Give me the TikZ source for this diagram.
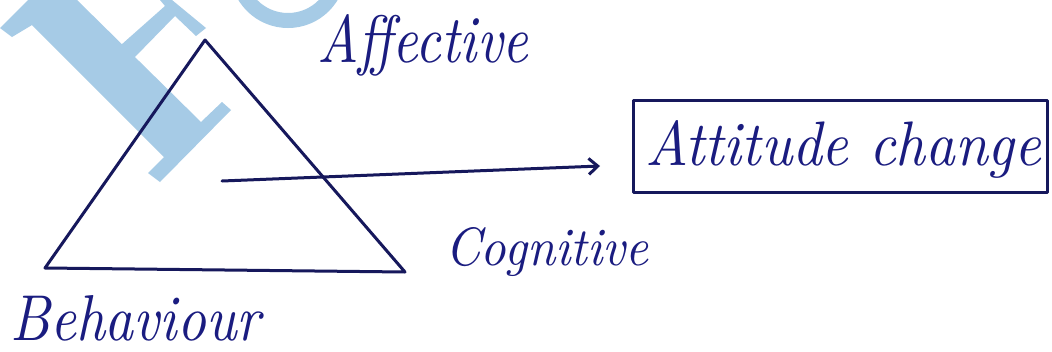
\documentclass[tikz,border=0pt]{standalone}
\usetikzlibrary{arrows.meta}
\usepackage{graphicx}
\definecolor{ink}{RGB}{22,24,92}
\definecolor{inktext}{RGB}{26,28,128}
\definecolor{wm}{RGB}{166,203,230}
\tikzset{
  pen/.style={draw=ink, line width=3pt, line join=round, line cap=round},
  lbl/.style={inner sep=0pt, text=inktext, font=\itshape},
  wmark/.style={fill=wm, draw=none},
}
\begin{document}
\begin{tikzpicture}[x=1pt,y=-1pt]
\useasboundingbox[fill=white] (0,0) rectangle (1052,351);
% watermark
\fill[wmark] (0,28) -- (28,0) -- (77,0) -- (201,122) -- (222,102) -- (231,110) -- (160,182) -- (148,173) -- (164,157) -- (32,25) -- (12,37) -- cycle;
\fill[wmark] (121,45) -- (134,58) -- (175,16) -- (196,36) -- (206,28) -- (172,0) -- (160,0) -- (165,6) -- cycle;
\fill[wmark, even odd rule] (288,-30) circle[radius=58] (288,-30) circle[radius=43];
% triangle
\coordinate (apex) at (205,40);
\coordinate (bl) at (45,268);
\coordinate (br) at (405,272);
\draw[pen] (apex) -- (br) -- (bl) -- cycle;
% box
\node[pen, minimum width=414pt, minimum height=92pt, inner sep=0pt] (box) at (840,146) {};
% arrow
\coordinate (tail) at (222,181);
\coordinate (tip) at (600,166);
\draw[pen, -{Straight Barb[length=9pt,width=16pt]}] (tail) -- (tip);
% labels
\node[lbl, anchor=base west] (aff) at (317,62) {\resizebox{211pt}{48pt}{Affective}};
\node[lbl, anchor=base west] (att) at (645,165) {\resizebox{396pt}{45pt}{Attitude change}};
\node[lbl, anchor=base west] (cog) at (445,265) {\resizebox{203pt}{38pt}{Cognitive}};
\node[lbl, anchor=base west] (beh) at (10,340) {\resizebox{250pt}{45pt}{Behaviour}};
\end{tikzpicture}
\end{document}
